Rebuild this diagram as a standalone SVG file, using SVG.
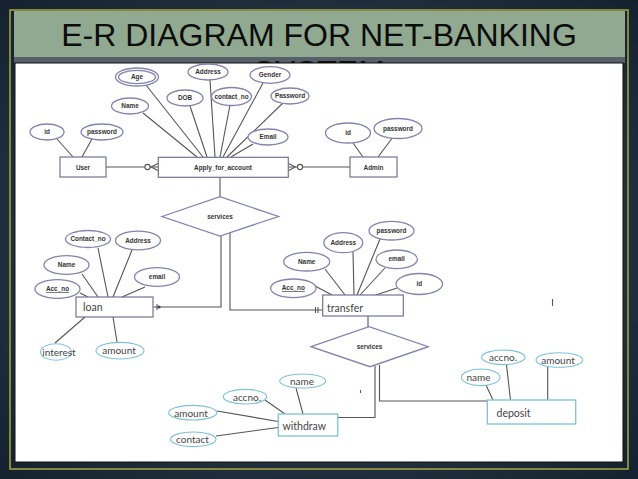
<svg xmlns="http://www.w3.org/2000/svg" width="638" height="479" viewBox="0 0 638 479">
<defs>
<radialGradient id="bg" cx="50%" cy="50%" r="70%">
<stop offset="0" stop-color="#3c4c5c"/>
<stop offset="1" stop-color="#14222f"/>
</radialGradient>
<clipPath id="sysclip"><rect x="14" y="50" width="611" height="13"/></clipPath>
<style>
.a{fill:#fff;stroke:#8383ae;stroke-width:1.3}
.t{fill:#fff;stroke:#7cc3d6;stroke-width:1.1}
.e{fill:#fff;stroke:#737393;stroke-width:1.2}
.et{fill:#fff;stroke:#7cc3d6;stroke-width:1.3}
.c{fill:none;stroke:#555;stroke-width:1.1}
.at{font-family:"Liberation Sans",Arial,sans-serif;font-weight:bold;font-size:6.4px;fill:#333;text-anchor:middle}
.tt{font-family:Lato,"Liberation Sans",sans-serif;font-size:10.5px;fill:#444}
.tc{font-family:Lato,"Liberation Sans",sans-serif;font-size:10px;fill:#444;text-anchor:middle}
.ti{font-family:"Liberation Sans",Arial,sans-serif;font-size:32px;fill:#0c0c0c;text-anchor:middle}
</style>
</defs>
<rect width="638" height="479" fill="url(#bg)"/>
<rect x="10" y="10" width="618" height="459" fill="none" stroke="#a9a83c" stroke-width="1.5"/>
<rect x="14" y="11" width="611" height="46" fill="#91a891"/>
<rect x="14" y="57" width="611" height="6" fill="#56616a"/>
<text class="ti" x="319" y="46">E-R DIAGRAM FOR NET-BANKING</text>
<g clip-path="url(#sysclip)"><text class="ti" x="319" y="83">SYSTEM</text></g>
<rect x="15" y="63" width="608" height="399" fill="#fff" stroke="#111" stroke-width="1"/>

<g id="connectors">
<!-- Apply attributes -->
<line class="c" x1="146" y1="85" x2="203" y2="157"/>
<line class="c" x1="143" y1="113" x2="197" y2="157"/>
<line class="c" x1="190" y1="106" x2="207" y2="157"/>
<line class="c" x1="210" y1="80" x2="215" y2="157"/>
<line class="c" x1="230" y1="105" x2="220" y2="157"/>
<line class="c" x1="263" y1="83" x2="223" y2="157"/>
<line class="c" x1="283" y1="103" x2="227" y2="157"/>
<line class="c" x1="253" y1="144" x2="231" y2="157"/>
<!-- User attributes -->
<line class="c" x1="57" y1="139" x2="73" y2="157"/>
<line class="c" x1="92" y1="139" x2="82" y2="157"/>
<!-- Admin attributes -->
<line class="c" x1="353" y1="143" x2="363" y2="157"/>
<line class="c" x1="393" y1="137" x2="378" y2="157"/>
<!-- User - Apply -->
<line class="c" x1="106" y1="167" x2="158" y2="167"/>
<circle cx="147.5" cy="167" r="2.6" fill="#fff" stroke="#555" stroke-width="1.1"/>
<path class="c" d="M151,167 L158,163.5 M151,167 L158,170.5"/>
<!-- Apply - Admin -->
<line class="c" x1="288" y1="167" x2="350" y2="167"/>
<circle cx="300" cy="167" r="2.6" fill="#fff" stroke="#555" stroke-width="1.1"/>
<path class="c" d="M295.5,167 L288.5,163.5 M295.5,167 L288.5,170.5"/>
<!-- Apply - services -->
<line class="c" x1="220" y1="177" x2="220" y2="197"/>
<!-- services - loan -->
<polyline class="c" points="221,236 221,307 153,307"/>
<line class="c" x1="157" y1="304" x2="157" y2="310"/>
<circle cx="159" cy="307" r="1.6" fill="#444"/>
<!-- services - transfer -->
<polyline class="c" points="230,233 230,310 322.7,310"/>
<line class="c" x1="315.5" y1="307" x2="315.5" y2="313"/>
<line class="c" x1="318" y1="307" x2="318" y2="313"/>
<!-- loan attributes -->
<line class="c" x1="98" y1="248" x2="108" y2="297"/>
<line class="c" x1="132" y1="250" x2="113" y2="297"/>
<line class="c" x1="82" y1="274" x2="98" y2="297"/>
<line class="c" x1="80" y1="293" x2="88" y2="297"/>
<line class="c" x1="145" y1="287" x2="122" y2="297"/>
<line class="c" x1="55" y1="343" x2="85" y2="317"/>
<line class="c" x1="117" y1="342" x2="113" y2="317"/>
<!-- transfer attributes -->
<line class="c" x1="380" y1="239" x2="357" y2="295"/>
<line class="c" x1="353" y1="252" x2="354" y2="295"/>
<line class="c" x1="325" y1="269" x2="345" y2="295"/>
<line class="c" x1="385" y1="268" x2="360" y2="295"/>
<line class="c" x1="315" y1="286" x2="332" y2="295"/>
<line class="c" x1="397" y1="288" x2="373" y2="296"/>
<!-- transfer - services2 -->
<line class="c" x1="368" y1="316" x2="368" y2="327"/>
<!-- services2 - withdraw -->
<polyline class="c" points="375,366 375,417.5 337.7,417.5"/>
<!-- services2 - deposit -->
<polyline class="c" points="379.5,365 379.5,401 487.3,401"/>
<!-- withdraw attributes -->
<line class="c" x1="296" y1="388" x2="303" y2="414"/>
<line class="c" x1="265" y1="400" x2="285" y2="414"/>
<line class="c" x1="217" y1="411" x2="278.3" y2="421.5"/>
<line class="c" x1="216" y1="436" x2="278.3" y2="427.5"/>
<!-- deposit attributes -->
<line class="c" x1="486" y1="385" x2="493" y2="400"/>
<line class="c" x1="506.5" y1="365" x2="510.5" y2="400"/>
<line class="c" x1="547.7" y1="367" x2="547.7" y2="400"/>
<!-- stray marks -->
<line class="c" x1="552.5" y1="299" x2="552.5" y2="306" stroke-width="0.9"/>
<line class="c" x1="360.5" y1="390" x2="360.5" y2="393" stroke-width="0.8"/>
</g>

<g id="user">
<rect class="e" x="60" y="157" width="46" height="20"/>
<text class="at" x="83" y="169.5">User</text>
</g>
<g id="user-id"><ellipse class="a" cx="47" cy="132" rx="17" ry="8"/><text class="at" x="47" y="134">id</text></g>
<g id="user-password"><ellipse class="a" cx="102" cy="132" rx="21" ry="8"/><text class="at" x="102" y="134">password</text></g>

<g id="apply">
<rect class="e" x="158.3" y="157.3" width="130" height="20"/>
<text class="at" x="223" y="169.5">Apply_for_account</text>
</g>
<g id="age"><ellipse class="a" cx="137" cy="77" rx="21.5" ry="9"/><ellipse class="a" cx="137" cy="77" rx="18.5" ry="6.6" stroke-width="1"/><text class="at" x="137" y="79">Age</text></g>
<g id="address"><ellipse class="a" cx="208" cy="72" rx="20" ry="8"/><text class="at" x="208" y="74">Address</text></g>
<g id="gender"><ellipse class="a" cx="270" cy="75" rx="20" ry="8.3"/><text class="at" x="270" y="77">Gender</text></g>
<g id="name"><ellipse class="a" cx="130" cy="106" rx="18.5" ry="8"/><text class="at" x="130" y="108">Name</text></g>
<g id="dob"><ellipse class="a" cx="185" cy="98" rx="18" ry="8"/><text class="at" x="185" y="100">DOB</text></g>
<g id="contact-no"><ellipse class="a" cx="231.5" cy="96.5" rx="20" ry="9"/><text class="at" x="231.5" y="98.5">contact_no</text></g>
<g id="password"><ellipse class="a" cx="290" cy="96" rx="19" ry="8"/><text class="at" x="290" y="98">Password</text></g>
<g id="email"><ellipse class="a" cx="268" cy="137" rx="20" ry="8"/><text class="at" x="268" y="139">Email</text></g>

<g id="admin">
<rect class="e" x="350" y="157" width="47" height="20"/>
<text class="at" x="373.5" y="169.5">Admin</text>
</g>
<g id="admin-id"><ellipse class="a" cx="348" cy="133" rx="22.5" ry="10"/><text class="at" x="348" y="135">id</text></g>
<g id="admin-password"><ellipse class="a" cx="398" cy="128.5" rx="24" ry="10"/><text class="at" x="398" y="130.5">password</text></g>

<g id="services1">
<polygon class="a" points="162,216.5 220,196.7 278.5,216.5 220,236"/>
<text class="at" x="220" y="218.5">services</text>
</g>

<g id="loan">
<rect class="e" x="76" y="297" width="77" height="20"/>
<text class="tt" x="83" y="310.5">loan</text>
</g>
<g id="loan-contact"><ellipse class="a" cx="88" cy="239" rx="22.5" ry="8.5"/><text class="at" x="88" y="241">Contact_no</text></g>
<g id="loan-address"><ellipse class="a" cx="138" cy="240.5" rx="22.5" ry="9.3"/><text class="at" x="138" y="242.5">Address</text></g>
<g id="loan-name"><ellipse class="a" cx="66.5" cy="265" rx="22.5" ry="9.3"/><text class="at" x="66.5" y="267">Name</text></g>
<g id="loan-email"><ellipse class="a" cx="157" cy="277" rx="22.5" ry="9.3"/><text class="at" x="157" y="279">email</text></g>
<g id="loan-acc"><ellipse class="a" cx="57.5" cy="289" rx="22.5" ry="9.3"/><text class="at" x="57.5" y="291" text-decoration="underline">Acc_no</text></g>
<g id="loan-interest"><ellipse class="t" cx="56" cy="352" rx="15.5" ry="8.3"/><text class="tc" x="59" y="355.5">interest</text></g>
<g id="loan-amount"><ellipse class="t" cx="120" cy="350.7" rx="24" ry="8.3"/><text class="tc" x="119" y="354">amount</text></g>

<g id="transfer">
<rect class="e" x="322.7" y="295" width="80.6" height="21"/>
<text class="tt" x="327" y="311.5">transfer</text>
</g>
<g id="transfer-password"><ellipse class="a" cx="391.5" cy="230.7" rx="22.5" ry="9.3"/><text class="at" x="391.5" y="232.7" font-weight="normal" font-size="5.6">password</text></g>
<g id="transfer-address"><ellipse class="a" cx="343.3" cy="242.7" rx="19.5" ry="10"/><text class="at" x="343.3" y="244.7">Address</text></g>
<g id="transfer-name"><ellipse class="a" cx="306.7" cy="261.7" rx="23" ry="9.3"/><text class="at" x="306.7" y="263.7">Name</text></g>
<g id="transfer-email"><ellipse class="a" cx="396.7" cy="259.3" rx="20.7" ry="9.3"/><text class="at" x="396.7" y="261.3">email</text></g>
<g id="transfer-acc"><ellipse class="a" cx="293.3" cy="288.3" rx="22.7" ry="9.3"/><text class="at" x="293.3" y="290.3" text-decoration="underline">Acc_no</text></g>
<g id="transfer-id"><ellipse class="a" cx="419.3" cy="284" rx="23.3" ry="10.5"/><text class="at" x="419.3" y="286">id</text></g>

<g id="services2">
<polygon class="a" points="311,346.7 369,326.7 428.3,346.7 370,366.7"/>
<text class="at" x="369.5" y="348.7">services</text>
</g>

<g id="withdraw">
<rect class="et" x="278.3" y="414" width="59.4" height="22"/>
<text class="tt" x="282.5" y="429.5">withdraw</text>
</g>
<g id="withdraw-name"><ellipse class="t" cx="302.7" cy="381" rx="23" ry="7"/><text class="tc" x="302" y="384.5">name</text></g>
<g id="withdraw-accno"><ellipse class="t" cx="245" cy="396.7" rx="21.7" ry="7.3"/><text class="tc" x="247" y="400.5">accno.</text></g>
<g id="withdraw-amount"><ellipse class="t" cx="192.7" cy="412.7" rx="24" ry="7.3"/><text class="tc" x="191" y="416.5">amount</text></g>
<g id="withdraw-contact"><ellipse class="t" cx="193.3" cy="439.3" rx="22.7" ry="7.3"/><text class="tc" x="192.5" y="443">contact</text></g>

<g id="deposit">
<rect class="et" x="487.3" y="400" width="88.4" height="24"/>
<text class="tt" x="496.5" y="417">deposit</text>
</g>
<g id="deposit-accno"><ellipse class="t" cx="503.3" cy="357.3" rx="21.7" ry="7.3"/><text class="tc" x="503" y="361">accno.</text></g>
<g id="deposit-amount"><ellipse class="t" cx="559.3" cy="360" rx="23.3" ry="7.3"/><text class="tc" x="558" y="363.5">amount</text></g>
<g id="deposit-name"><ellipse class="t" cx="480.7" cy="377.3" rx="19.3" ry="8.3"/><text class="tc" x="478.5" y="381">name</text></g>
</svg>
